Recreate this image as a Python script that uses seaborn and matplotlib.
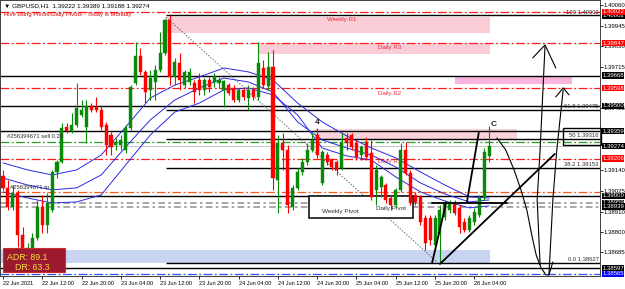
import matplotlib
matplotlib.use("Agg")
import matplotlib.pyplot as plt
import matplotlib.transforms as mtransforms
from matplotlib.patches import Rectangle
import numpy as np
import pandas as pd
import seaborn as sns

# ---------------- data (GBPUSD H1, 22 Jun 04:00 -> 28 Jun 07:00) ----------------
opens = [1.39109, 1.39043, 1.38937, 1.39015, 1.38781, 1.38670, 1.38709, 1.38765, 1.38937, 1.38837,
         1.38920, 1.39132, 1.39188, 1.39382, 1.39360, 1.39393, 1.39449, 1.39382, 1.39499, 1.39493,
         1.39476, 1.39393, 1.39337, 1.39282, 1.39282, 1.39254, 1.39376, 1.39627, 1.39777, 1.39688,
         1.39588, 1.39632, 1.39699, 1.39793, 1.39977, 1.39660, 1.39738, 1.39615, 1.39632, 1.39627,
         1.39643, 1.39588, 1.39643, 1.39632, 1.39627, 1.39588, 1.39615, 1.39599, 1.39532, 1.39588,
         1.39543, 1.39588, 1.39549, 1.39710, 1.39610, 1.39715, 1.39087, 1.39293, 1.39254, 1.38937,
         1.39043, 1.39132, 1.39188, 1.39254, 1.39337, 1.39071, 1.39226, 1.39198, 1.39188, 1.39154,
         1.39321, 1.39337, 1.39293, 1.39226, 1.39298, 1.39237, 1.39032, 1.39048, 1.39059, 1.38987,
         1.38948, 1.39032, 1.39254, 1.39126, 1.39004, 1.38993, 1.38876, 1.38876, 1.38726, 1.38793,
         1.38881, 1.38920, 1.38954, 1.38932, 1.38854, 1.38809, 1.38854, 1.38893, 1.38987, 1.39222]
highs = [1.39143, 1.39087, 1.39059, 1.39032, 1.38826, 1.38737, 1.38793, 1.38976, 1.39004, 1.39015,
         1.39143, 1.39198, 1.39404, 1.39404, 1.39460, 1.39627, 1.39532, 1.39532, 1.39515, 1.39549,
         1.39504, 1.39410, 1.39354, 1.39321, 1.39337, 1.39393, 1.39615, 1.39854, 1.39821, 1.39699,
         1.39699, 1.39727, 1.39910, 1.39982, 1.40002, 1.39766, 1.39793, 1.39699, 1.39710, 1.39643,
         1.39682, 1.39654, 1.39660, 1.39682, 1.39660, 1.39643, 1.39627, 1.39615, 1.39599, 1.39599,
         1.39615, 1.39604, 1.39854, 1.39754, 1.39799, 1.39810, 1.39337, 1.39349, 1.39282, 1.39059,
         1.39154, 1.39210, 1.39293, 1.39349, 1.39376, 1.39254, 1.39243, 1.39210, 1.39198, 1.39349,
         1.39349, 1.39349, 1.39310, 1.39282, 1.39326, 1.39310, 1.39171, 1.39115, 1.39071, 1.39004,
         1.39043, 1.39293, 1.39298, 1.39143, 1.39021, 1.39004, 1.38893, 1.38893, 1.38893, 1.38948,
         1.38976, 1.38976, 1.38976, 1.38948, 1.38876, 1.38893, 1.38932, 1.39004, 1.39265, 1.39389]
lows = [1.39032, 1.38920, 1.38920, 1.38715, 1.38631, 1.38631, 1.38665, 1.38754, 1.38793, 1.38793,
        1.38909, 1.39098, 1.39182, 1.39349, 1.39349, 1.39382, 1.39437, 1.39293, 1.39465, 1.39465,
        1.39365, 1.39226, 1.39226, 1.39254, 1.39254, 1.39237, 1.39365, 1.39615, 1.39671, 1.39515,
        1.39532, 1.39532, 1.39688, 1.39782, 1.39615, 1.39615, 1.39588, 1.39599, 1.39615, 1.39515,
        1.39560, 1.39560, 1.39576, 1.39604, 1.39599, 1.39493, 1.39560, 1.39521, 1.39521, 1.39532,
        1.39476, 1.39532, 1.39532, 1.39599, 1.39588, 1.39032, 1.38904, 1.39143, 1.38904, 1.38920,
        1.39032, 1.39115, 1.39171, 1.39243, 1.39210, 1.39059, 1.39171, 1.39143, 1.39115, 1.39143,
        1.39254, 1.39254, 1.39198, 1.39198, 1.39198, 1.38976, 1.38948, 1.38993, 1.38959, 1.38920,
        1.38937, 1.39021, 1.39115, 1.38948, 1.38948, 1.38837, 1.38698, 1.38726, 1.38698, 1.38626,
        1.38865, 1.38904, 1.38893, 1.38793, 1.38798, 1.38798, 1.38837, 1.38881, 1.38976, 1.39188]
closes = [1.39043, 1.38937, 1.39015, 1.38781, 1.38670, 1.38709, 1.38765, 1.38937, 1.38837, 1.38959,
          1.39132, 1.39188, 1.39376, 1.39360, 1.39393, 1.39488, 1.39476, 1.39499, 1.39476, 1.39476,
          1.39382, 1.39282, 1.39271, 1.39298, 1.39310, 1.39376, 1.39604, 1.39777, 1.39688, 1.39576,
          1.39654, 1.39699, 1.39793, 1.39977, 1.39660, 1.39743, 1.39643, 1.39688, 1.39688, 1.39576,
          1.39588, 1.39643, 1.39604, 1.39665, 1.39643, 1.39638, 1.39571, 1.39532, 1.39588, 1.39549,
          1.39588, 1.39549, 1.39738, 1.39615, 1.39715, 1.39098, 1.39293, 1.39254, 1.38948, 1.39043,
          1.39132, 1.39188, 1.39254, 1.39310, 1.39226, 1.39243, 1.39188, 1.39159, 1.39143, 1.39298,
          1.39293, 1.39271, 1.39215, 1.39271, 1.39215, 1.38993, 1.39143, 1.39104, 1.38976, 1.38948,
          1.39032, 1.39254, 1.39126, 1.38959, 1.38965, 1.38854, 1.38737, 1.38754, 1.38876, 1.38920,
          1.38959, 1.38959, 1.38904, 1.38826, 1.38809, 1.38876, 1.38909, 1.38987, 1.39243, 1.39274]

# moving-average envelope lines
ma_bar = [0, 5, 10, 15, 20, 25, 30, 35, 40, 45, 50, 55, 60, 65, 70, 75, 80, 85, 90, 95, 99]
ma_a = [1.39182, 1.39143, 1.39115, 1.39143, 1.39226, 1.39382, 1.39543, 1.39615, 1.39660, 1.39710, 1.39688,
        1.39643, 1.39515, 1.39410, 1.39332, 1.39265, 1.39210, 1.39132, 1.39059, 1.38993, 1.38987]
ma_b = [1.39098, 1.39059, 1.39032, 1.39043, 1.39115, 1.39271, 1.39421, 1.39532, 1.39599, 1.39654, 1.39632,
        1.39576, 1.39410, 1.39310, 1.39265, 1.39226, 1.39159, 1.39071, 1.39009, 1.38965, 1.38976]
ma_c = [1.39021, 1.38987, 1.38959, 1.38965, 1.39004, 1.39171, 1.39337, 1.39465, 1.39515, 1.39588, 1.39599,
        1.39560, 1.39449, 1.39265, 1.39221, 1.39198, 1.39104, 1.39021, 1.38970, 1.38932, 1.38943]

time_tick_bars = [0, 8, 16, 24, 32, 40, 48, 56, 64, 72, 80, 88, 96]
time_tick_labels = ["22 Jun 2021", "22 Jun 12:00", "22 Jun 20:00", "23 Jun 04:00", "23 Jun 12:00",
                    "23 Jun 20:00", "24 Jun 04:00", "24 Jun 12:00", "24 Jun 20:00", "25 Jun 04:00",
                    "25 Jun 12:00", "25 Jun 20:00", "28 Jun 04:00"]
price_ticks = [1.40060, 1.39945, 1.39830, 1.39715, 1.39485, 1.39140, 1.39025, 1.38910, 1.38800, 1.38685]

# price-line labels on the axis: (price, background)
axis_marks = [(1.40002, "#000000"), (1.40022, "#ff0000"), (1.39847, "#ff0000"), (1.39668, "#000000"),
              (1.39598, "#ff0000"), (1.39500, "#000000"), (1.39359, "#000000"), (1.39274, "#000000"),
              (1.39206, "#ff0000"), (1.39000, "#000000"), (1.38959, "#000000"), (1.38939, "#000000"),
              (1.38597, "#000000"), (1.38565, "#0000ff")]

fib_levels = [("100", 1.40002), ("61.8", 1.39475), ("50", 1.39316), ("38.2", 1.39153), ("0.0", 1.38627)]

# ---------------- figure ----------------
sns.set_theme(style="white")
plt.rcParams["font.family"] = ["Liberation Sans", "DejaVu Sans"]

XMIN, XMAX = -0.61, 121.6
YMIN, YMAX = 1.38553, 1.40088

fig = plt.figure(figsize=(6.25, 2.89), dpi=100)
fig.patch.set_facecolor("white")
ax = fig.add_axes([0.0, 13 / 289, 600 / 625, 276 / 289])
ax.set_facecolor("white")
ax.set_xlim(XMIN, XMAX)
ax.set_ylim(YMIN, YMAX)

# zones
zones = [(33.0, 99.2, 1.39904, 1.39993, "#f9ccd6"),
         (51.9, 99.2, 1.39788, 1.39849, "#f9ccd6"),
         (92.1, 115.9, 1.39621, 1.39660, "#f8b4dc"),
         (63.5, 104.7, 1.39310, 1.39371, "#f9d2da"),
         (XMIN, 99.2, 1.38626, 1.38698, "#c9d3f2")]
for x0, x1, p0, p1, col in zones:
    ax.add_patch(Rectangle((x0, p0), x1 - x0, p1 - p0, facecolor=col, edgecolor="none", zorder=1))

dashdot = (0, (7, 2, 1.5, 2))
red = "#ff1a1a"
# horizontal levels
hl = [(1.40022, red, dashdot, 0.9, XMIN),
      (1.40002, "black", "-", 1.0, 33.2),
      (1.39847, red, dashdot, 0.9, XMIN),
      (1.39668, "black", "-", 1.0, XMIN),
      (1.39598, red, dashdot, 0.9, XMIN),
      (1.39500, "black", "-", 1.0, XMIN),
      (1.39475, "black", "-", 1.0, 33.2),
      (1.39359, "black", "-", 1.0, XMIN),
      (1.39316, "black", "-", 1.0, 33.2),
      (1.39301, "#2e9a2e", dashdot, 0.9, XMIN),
      (1.39274, "#c8c8c8", "-", 0.8, XMIN),
      (1.39206, red, dashdot, 0.9, XMIN),
      (1.39153, "black", "-", 1.0, 33.2),
      (1.39020, "#ff5a1a", dashdot, 0.9, XMIN),
      (1.39000, "black", "-", 1.0, XMIN),
      (1.38959, "#9a9a9a", (0, (4, 2, 1.5, 2)), 1.2, XMIN),
      (1.38939, "#9a9a9a", (0, (4, 2, 1.5, 2)), 1.2, XMIN),
      (1.38627, "black", "-", 1.0, 33.2),
      (1.38597, "black", "-", 1.0, XMIN),
      (1.38565, "#3050ff", dashdot, 0.9, XMIN)]
for p, c, ls, lw, x0 in hl:
    ax.hlines(p, x0, XMAX, colors=c, linestyles=[ls], linewidth=lw, zorder=2)

# zone labels
for txt, xb, p in [("Weekly R1", 66.0, 1.39977), ("Daily R3", 76.4, 1.39822),
                   ("Daily R2", 76.4, 1.39566), ("Daily R1", 76.4, 1.39190)]:
    ax.text(xb, p, txt, color="#e8283c", fontsize=4.4, va="center", ha="left", zorder=2)

# weekly pivot box
ax.add_patch(Rectangle((62.3, 1.38876), 21.2, 1.38998 - 1.38876, facecolor="white",
                       edgecolor="black", linewidth=1.1, zorder=3))
ax.text(65.0, 1.38910, "Weekly Pivot", fontsize=4.6, color="#303030", va="center", zorder=4)
ax.text(76.0, 1.38926, "Daily Pivot", fontsize=4.6, color="#303030", va="center", zorder=4)

# fibo dotted diagonal
ax.plot([33.2, 88.4], [1.39993, 1.38631], color="#707070", linestyle=(0, (1.2, 1.5)), linewidth=0.8, zorder=2)

# moving averages
ma_df = pd.DataFrame({"bar": ma_bar * 3, "price": ma_a + ma_b + ma_c,
                      "line": ["a"] * len(ma_bar) + ["b"] * len(ma_bar) + ["c"] * len(ma_bar)})
sns.lineplot(data=ma_df, x="bar", y="price", units="line", estimator=None, color="#2a2ae6",
             linewidth=0.7, ax=ax, zorder=3, legend=False)

# candles
bars = np.arange(len(opens))
o = np.array(opens); h = np.array(highs); l = np.array(lows); c = np.array(closes)
cols = np.where(c >= o, "#078a07", "#ff0000")
ax.vlines(bars, l, h, colors=cols, linewidth=0.8, zorder=5)
body = np.where(np.abs(c - o) < 0.00004, 0.00004, c - o)
ax.bar(bars, body, bottom=o, width=0.62, color=cols, edgecolor=cols, linewidth=0.3, zorder=6)

# fib labels
for name, p in fib_levels:
    ax.text(121.3, p + 0.00005, f"{name} {p:.5f}", fontsize=4.2, color="#303030",
            ha="right", va="bottom", zorder=7)
ax.add_patch(Rectangle((114.1, 1.39282), 7.7, 1.39376 - 1.39282, facecolor="none",
                       edgecolor="black", linewidth=1.0, zorder=7, clip_on=False))

# hand drawn strokes
strokes = [
    ([87.4, 90.2], [1.38626, 1.38954]),
    ([87.4, 102.6], [1.38959, 1.38959]),
    ([89.0, 112.4], [1.38620, 1.39232]),
    ([94.5, 96.9], [1.38965, 1.39349]),
    ([100.6, 102.4, 104.1, 105.5, 106.7, 107.7, 108.6, 109.6, 110.6, 111.2, 112.0],
     [1.39321, 1.39254, 1.39143, 1.39032, 1.38920, 1.38781, 1.38670, 1.38598, 1.38559, 1.38559, 1.38631]),
    ([109.4, 108.8, 109.4, 110.4], [1.38615, 1.38976, 1.39254, 1.39832]),
    ([107.9, 110.4, 112.6], [1.39766, 1.39838, 1.39710]),
    ([111.2, 112.0, 112.8, 114.1], [1.38559, 1.38976, 1.39254, 1.39588]),
    ([112.6, 114.1, 115.3], [1.39549, 1.39599, 1.39560]),
]
for i, (xs, ys) in enumerate(strokes):
    lw = 1.3 if i < 4 else 0.8
    ax.plot(xs, ys, color="black", linewidth=lw, zorder=8, solid_capstyle="round")

ax.text(64.0, 1.39404, "4", fontsize=6, fontweight="bold", color="#202020", ha="center", va="center", zorder=8)
ax.text(100.0, 1.39398, "C", fontsize=6, fontweight="bold", color="#202020", ha="center", va="center", zorder=8)

# order labels
ax.text(0.8, 1.39327, "#256394671 sell 0.20", fontsize=4.2, color="#303030", va="center", zorder=7)
ax.text(1.4, 1.39043, "#256394671 tp", fontsize=4.2, color="#303030", va="center", zorder=7)

# header texts
ax.text(0.006, 0.978, "\u25bc GBPUSD,H1  1.39222 1.39389 1.39188 1.39274", transform=ax.transAxes,
        fontsize=4.6, color="black", va="center", ha="left", zorder=9)
ax.text(0.006, 0.948, "Hive using Pivots/Daily Pivots - Today is Monday", transform=ax.transAxes,
        fontsize=4.2, color="#dd0000", va="center", ha="left", zorder=9)

# ADR box
ax.add_patch(Rectangle((0.005, 0.0145), 0.103, 0.087, transform=ax.transAxes, facecolor="#9c1a30",
                       edgecolor="#d02a2a", linewidth=0.8, zorder=9))
ax.text(0.012, 0.068, "ADR: 89.1", transform=ax.transAxes, fontsize=6.3, color="#f2e23a",
        va="center", ha="left", zorder=10)
ax.text(0.025, 0.030, "DR: 63.3", transform=ax.transAxes, fontsize=6.3, color="#f2e23a",
        va="center", ha="left", zorder=10)

# axes styling
for s in ax.spines.values():
    s.set_color("#404040")
    s.set_linewidth(0.7)
ax.yaxis.tick_right()
ax.set_yticks(price_ticks)
ax.set_yticklabels([f"{p:.5f}" for p in price_ticks])
ax.tick_params(axis="y", direction="out", length=2, width=0.6, pad=0.8, labelsize=4.3,
               right=True, left=False, colors="black")
ax.set_xticks(time_tick_bars)
ax.set_xticklabels(time_tick_labels, ha="left")
ax.tick_params(axis="x", direction="out", length=2, width=0.6, pad=1.5, labelsize=4.0,
               bottom=True, colors="black")
ax.set_xlabel("")
ax.set_ylabel("")

trans = mtransforms.blended_transform_factory(ax.transAxes, ax.transData)
for p, bg in axis_marks:
    ax.text(1.0035, p, f"{p:.5f}", transform=trans, fontsize=4.3, color="white", va="center",
            ha="left", zorder=11, clip_on=False,
            bbox=dict(boxstyle="square,pad=0.1", facecolor=bg, edgecolor="none"))

fig.savefig("out.png", dpi=100, facecolor="white")
